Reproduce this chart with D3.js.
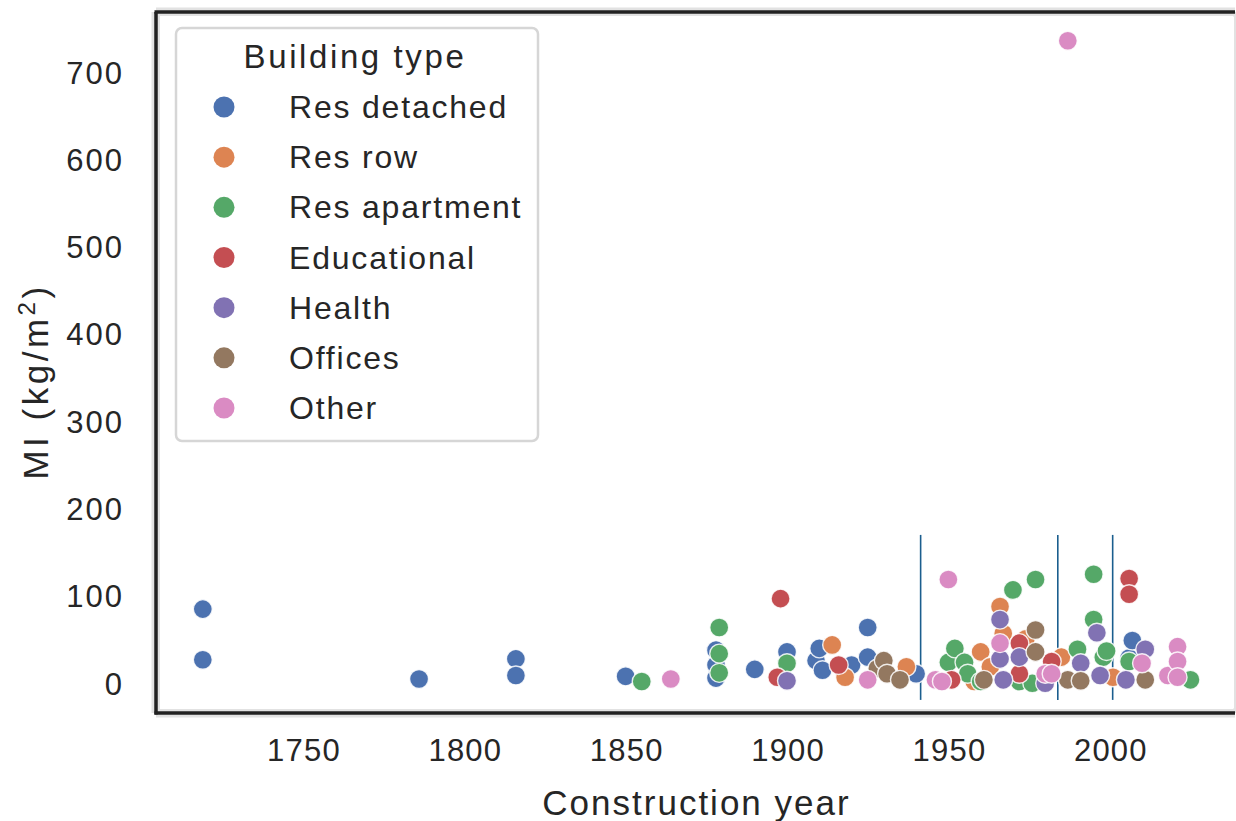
<!DOCTYPE html>
<html>
<head>
<meta charset="utf-8">
<script src="https://cdn.jsdelivr.net/npm/d3@7/dist/d3.min.js"></script>
<style>
  body { margin: 0; background: #ffffff; }
  text { font-family: "Liberation Sans", Arial, Helvetica, sans-serif; fill: #262626; }
</style>
</head>
<body>
<svg id="chart" width="1236" height="821"></svg>
<script>
// Building categories and their palette (seaborn "deep")
const buildingTypes = ["Res detached", "Res row", "Res apartment", "Educational", "Health", "Offices", "Other"];
const typeColors = ["#4C72B0", "#DD8452", "#55A868", "#C44E52", "#8172B3", "#937860", "#DA8BC3"];

// [construction year, material intensity kg/m2] per category
const resDetached = [
  [1719, 86], [1719, 28], [1786, 6], [1816, 29], [1816, 10], [1850, 9],
  [1878, 39], [1878, 22], [1878, 7], [1890, 17], [1900, 37], [1909, 27],
  [1910, 41], [1911, 16], [1920, 22], [1925, 65], [1925, 31], [1940, 12],
  [2006, 30], [2007, 50]
];
const resRow = [
  [1914, 45], [1918, 8], [1937, 20], [1958, 3], [1960, 37], [1963, 20],
  [1966, 89], [1967, 58], [1974, 52], [1985, 31], [2001, 8]
];
const resApartment = [
  [1855, 3], [1879, 65], [1879, 35], [1879, 13], [1900, 24], [1950, 25],
  [1952, 41], [1955, 25], [1956, 12], [1960, 3], [1970, 108], [1972, 3],
  [1976, 1], [1977, 120], [1990, 40], [1995, 126], [1995, 74], [1998, 31],
  [1999, 38], [2006, 26], [2025, 5]
];
const educational = [
  [1897, 8], [1898, 98], [1916, 22], [1951, 5], [1972, 47], [1972, 12],
  [1982, 26], [2006, 121], [2006, 103]
];
const health = [
  [1900, 4], [1966, 74], [1966, 29], [1967, 5], [1972, 31], [1980, 1],
  [1991, 24], [1996, 59], [1997, 10], [2005, 5], [2011, 40]
];
const offices = [
  [1928, 18], [1930, 27], [1931, 12], [1935, 5], [1961, 5], [1977, 62],
  [1977, 37], [1987, 5], [1991, 4], [2011, 5]
];
const other = [
  [1864, 6], [1925, 5], [1946, 5], [1948, 3], [1950, 120], [1966, 47],
  [1980, 12], [1982, 12], [1987, 737], [2010, 24], [2018, 10], [2021, 43],
  [2021, 26], [2021, 8]
];
const seriesValues = [resDetached, resRow, resApartment, educational, health, offices, other];

// Reference years marked with vertical rules, and their vertical extent (kg/m2)
const ruleYears = [1941.4, 1983.9, 2000.9];
const ruleSpan = [-18, 171];

// Axis ticks and titles
const xTicks = [1750, 1800, 1850, 1900, 1950, 2000];
const yTicks = [0, 100, 200, 300, 400, 500, 600, 700];
const xTitle = "Construction year";
const legendTitle = "Building type";

const plot = { left: 156, top: 12, right: 1235, bottom: 713 };

const svg = d3.select("#chart");

const x = d3.scaleLinear().domain([1704.5, 2038.8]).range([plot.left, plot.right]);
const y = d3.scaleLinear().domain([-33, 770]).range([plot.bottom, plot.top]);

// Axes (no tick marks, labels only)
const xAxis = svg.append("g")
  .attr("transform", `translate(0,${plot.bottom})`)
  .call(d3.axisBottom(x).tickValues(xTicks).tickFormat(d3.format("d")).tickSize(0).tickPadding(26));
xAxis.select(".domain").remove();
xAxis.selectAll("text").attr("font-size", 31).attr("letter-spacing", 1.2).attr("dx", 0.6);

const yAxis = svg.append("g")
  .attr("transform", `translate(${plot.left},0)`)
  .call(d3.axisLeft(y).tickValues(yTicks).tickFormat(d3.format("d")).tickSize(0).tickPadding(32));
yAxis.select(".domain").remove();
yAxis.selectAll("text").attr("font-size", 31).attr("letter-spacing", 2);
svg.selectAll(".tick text").attr("font-family", null).attr("fill", "#262626");

// Axis titles
svg.append("text")
  .attr("x", (plot.left + plot.right) / 2 + 1)
  .attr("y", 815)
  .attr("text-anchor", "middle")
  .attr("font-size", 35)
  .attr("letter-spacing", 2)
  .text(xTitle);

const yTitle = svg.append("text")
  .attr("transform", `translate(48,${(plot.top + plot.bottom) / 2 + 19}) rotate(-90)`)
  .attr("text-anchor", "middle")
  .attr("font-size", 35)
  .attr("letter-spacing", 3.5);
yTitle.append("tspan").text("MI (kg/m");
yTitle.append("tspan").attr("font-size", 24).attr("dy", -13).text("2");
yTitle.append("tspan").attr("dy", 13).text(")");

// Plot frame with a soft halo around the spines
const frame = svg.append("g");
const spine = (x1, y1, x2, y2, color, width) =>
  frame.append("line").attr("x1", x1).attr("y1", y1).attr("x2", x2).attr("y2", y2)
    .attr("stroke", color).attr("stroke-width", width);
spine(plot.left, plot.top, plot.right, plot.top, "#e2e2e2", 9);
spine(plot.left, plot.top, plot.left, plot.bottom, "#e2e2e2", 9);
spine(plot.left, plot.bottom, plot.right, plot.bottom, "#e2e2e2", 9);
spine(plot.right, plot.top, plot.right, plot.bottom, "#e2e2e2", 2);
frame.append("rect").attr("x", plot.left + 4).attr("y", plot.top + 4)
  .attr("width", plot.right - plot.left - 6).attr("height", plot.bottom - plot.top - 8)
  .attr("fill", "#ffffff");
spine(plot.left - 1.5, plot.top, plot.right, plot.top, "#222222", 3.5);
spine(plot.left, plot.top, plot.left, plot.bottom + 1.5, "#222222", 3.5);
spine(plot.left - 1.5, plot.bottom, plot.right, plot.bottom, "#222222", 3.5);

// Vertical reference rules
svg.append("g").selectAll("line").data(ruleYears).join("line")
  .attr("x1", d => x(d)).attr("x2", d => x(d))
  .attr("y1", y(ruleSpan[0])).attr("y2", y(ruleSpan[1]))
  .attr("stroke", "#1b5e8e").attr("stroke-width", 1.6);

// Scatter points, one layer per building type
const points = svg.append("g");
seriesValues.forEach((vals, i) => {
  points.append("g").selectAll("circle").data(vals).join("circle")
    .attr("cx", d => x(d[0]))
    .attr("cy", d => y(d[1]))
    .attr("r", 9.5)
    .attr("fill", typeColors[i])
    .attr("stroke", "#ffffff")
    .attr("stroke-opacity", 0.85)
    .attr("stroke-width", 1.4);
});

// Legend
const legend = svg.append("g");
legend.append("rect")
  .attr("x", 176).attr("y", 28).attr("width", 362).attr("height", 413)
  .attr("rx", 6).attr("ry", 6)
  .attr("fill", "#ffffff").attr("fill-opacity", 0.85)
  .attr("stroke", "#d6d6d6").attr("stroke-width", 2.5);
legend.append("text")
  .attr("x", 355).attr("y", 68)
  .attr("text-anchor", "middle")
  .attr("font-size", 33)
  .attr("letter-spacing", 2.6)
  .text(legendTitle);
const rowY = d3.scalePoint().domain(buildingTypes).range([107, 408]);
const rows = legend.selectAll("g.row").data(buildingTypes).join("g").attr("class", "row")
  .attr("transform", d => `translate(0,${rowY(d)})`);
rows.append("circle").attr("cx", 224).attr("cy", 0).attr("r", 10.5)
  .attr("fill", (d, i) => typeColors[i]);
rows.append("text").attr("x", 289).attr("y", 11).attr("font-size", 32)
  .attr("letter-spacing", 1.8).text(d => d);
</script>
</body>
</html>
